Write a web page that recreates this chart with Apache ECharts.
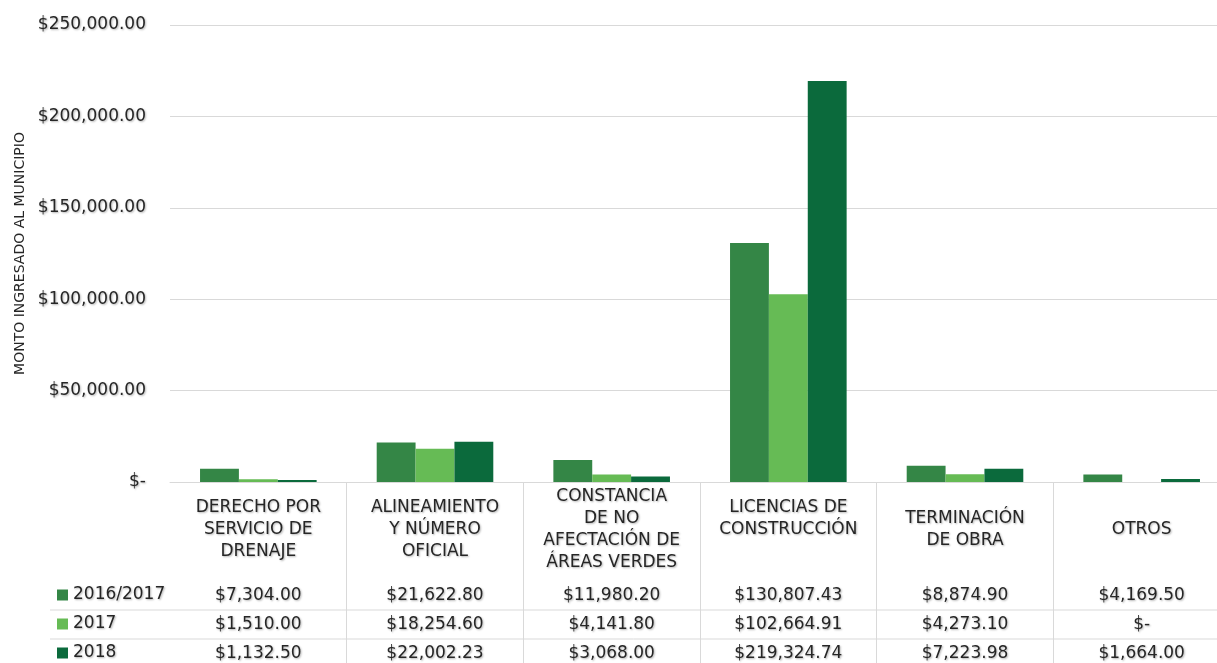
<!DOCTYPE html>
<html>
<head>
<meta charset="utf-8">
<script src="https://cdn.jsdelivr.net/npm/echarts@6/dist/echarts.min.js"></script>
<style>
html, body { margin: 0; padding: 0; background: #fff; }
#container { width: 1217px; height: 663px; }
</style>
</head>
<body>
<div id="container"></div>
<script>
// datos
var categorias = [
    'DERECHO POR\nSERVICIO DE\nDRENAJE',
    'ALINEAMIENTO\nY NÚMERO\nOFICIAL',
    'CONSTANCIA\nDE NO\nAFECTACIÓN DE\nÁREAS VERDES',
    'LICENCIAS DE\nCONSTRUCCIÓN\n ',
    'TERMINACIÓN\nDE OBRA',
    'OTROS'
];
var series_nombres = ['2016/2017', '2017', '2018'];
var v_2016_2017 = [7304.00, 21622.80, 11980.20, 130807.43, 8874.90, 4169.50];
var v_2017 = [1510.00, 18254.60, 4141.80, 102664.91, 4273.10, 0];
var v_2018 = [1132.50, 22002.23, 3068.00, 219324.74, 7223.98, 1664.00];
var colores = ['#348646', '#66bb55', '#0b6a3c'];

var valores = [v_2016_2017, v_2017, v_2018];

function moneda(v) {
    if (v === 0) return '$-';
    var s = v.toFixed(2).split('.');
    s[0] = s[0].replace(/\B(?=(\d{3})+(?!\d))/g, ',');
    return '$' + s[0] + '.' + s[1];
}

var fuente = 'DejaVu Sans';
var sombra = {
    textShadowColor: 'rgba(0,0,0,0.3)',
    textShadowBlur: 2,
    textShadowOffsetX: 1,
    textShadowOffsetY: 1
};
function estilo(extra) {
    var o = { fontFamily: fuente, fontSize: 17, color: '#262626' };
    for (var k in sombra) o[k] = sombra[k];
    for (var k2 in extra) o[k2] = extra[k2];
    return o;
}

var myChart = echarts.init(document.getElementById('container'));

// ejes de la tabla (filas de valores)
var ejesX = [
    {
        type: 'category',
        gridIndex: 0,
        position: 'bottom',
        data: categorias,
        axisLine: { lineStyle: { color: '#d9d9d9', width: 1 } },
        axisTick: { show: false },
        axisLabel: estilo({ interval: 0, margin: 48, verticalAlign: 'middle', lineHeight: 22 })
    }
];
var margenes = [114, 143, 172];
for (var i = 0; i < valores.length; i++) {
    (function (vals, m) {
        ejesX.push({
            type: 'category',
            gridIndex: 0,
            position: 'bottom',
            offset: 0,
            data: categorias,
            axisLine: { show: false },
            axisTick: { show: false },
            axisLabel: estilo({
                interval: 0,
                margin: m,
                verticalAlign: 'middle',
                formatter: function (value, idx) { return moneda(vals[idx]); }
            })
        });
    })(valores[i], margenes[i]);
}
// lineas verticales de la tabla
ejesX.push({
    type: 'category',
    gridIndex: 1,
    position: 'bottom',
    data: categorias,
    axisLine: { show: false },
    axisTick: { show: false },
    axisLabel: { show: false },
    splitLine: {
        show: true,
        interval: function (idx) { return idx !== 0; },
        lineStyle: { color: '#d9d9d9', width: 1 }
    }
});

var series = [];
for (var j = 0; j < series_nombres.length; j++) {
    series.push({
        name: series_nombres[j],
        type: 'bar',
        xAxisIndex: 0,
        yAxisIndex: 0,
        barGap: 0,
        barCategoryGap: '34%',
        itemStyle: { color: colores[j] },
        data: valores[j]
    });
}

var option = {
    animation: false,
    backgroundColor: '#fff',
    grid: [
        { left: 170, top: 25, width: 1060, height: 457, outerBoundsMode: 'none', containLabel: false },
        { left: 170, top: 482, width: 1060, height: 181, outerBoundsMode: 'none', containLabel: false }
    ],
    legend: {
        orient: 'vertical',
        left: 57,
        top: 585,
        padding: 0,
        itemWidth: 11,
        itemHeight: 11,
        itemGap: 9,
        icon: 'rect',
        textStyle: estilo({ lineHeight: 20 }),
        data: series_nombres
    },
    graphic: [
        { type: 'line', shape: { x1: 50, y1: 610, x2: 1217, y2: 610 }, style: { stroke: '#d9d9d9', lineWidth: 1 } },
        { type: 'line', shape: { x1: 50, y1: 639, x2: 1217, y2: 639 }, style: { stroke: '#d9d9d9', lineWidth: 1 } }
    ],
    xAxis: ejesX,
    yAxis: [
        {
            type: 'value',
            gridIndex: 0,
            min: 0,
            max: 250000,
            interval: 50000,
            name: 'MONTO INGRESADO AL MUNICIPIO',
            nameLocation: 'middle',
            nameGap: 143,
            nameTextStyle: { fontFamily: fuente, fontSize: 14, color: '#262626' },
            axisLine: { show: false },
            axisTick: { show: false },
            axisLabel: estilo({ margin: 24, formatter: function (v) { return moneda(v); } }),
            splitLine: { lineStyle: { color: '#d9d9d9', width: 1 } }
        },
        { type: 'value', gridIndex: 1, show: false }
    ],
    series: series
};
myChart.setOption(option);
</script>
</body>
</html>
